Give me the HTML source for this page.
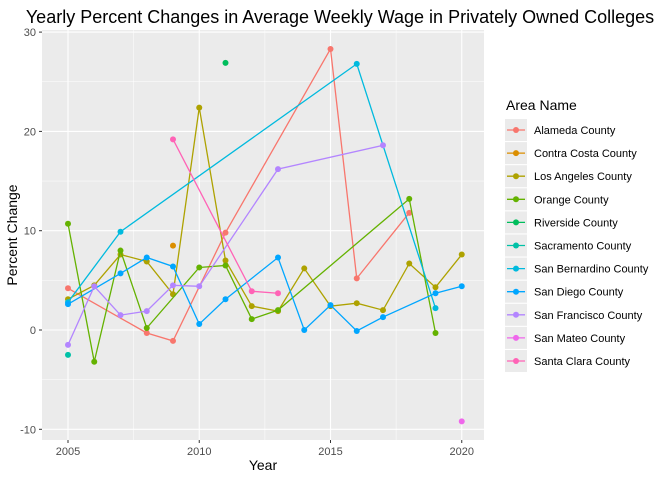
<!DOCTYPE html>
<html><head><meta charset="utf-8"><style>
body{margin:0;background:#fff;font-family:"Liberation Sans",sans-serif}
</style></head><body>
<svg id="chart" width="672" height="480" xmlns="http://www.w3.org/2000/svg" font-family="Liberation Sans, sans-serif">
<text x="340" y="23" font-size="18" text-anchor="middle" fill="#000">Yearly Percent Changes in Average Weekly Wage in Privately Owned Colleges</text>
<rect x="42" y="30" width="442" height="410" fill="#ebebeb"/>
<g id="grid"></g><g id="series"></g><g id="axes"></g><g id="legend"></g>
<text x="263" y="470" font-size="14" text-anchor="middle">Year</text>
<text transform="translate(17,235) rotate(-90)" font-size="14" text-anchor="middle">Percent Change</text>
</svg>
<script>
const names=["Alameda County","Contra Costa County","Los Angeles County","Orange County","Riverside County","Sacramento County","San Bernardino County","San Diego County","San Francisco County","San Mateo County","Santa Clara County"];
const colors=["#F8766D","#DB8E00","#AEA200","#64B200","#00BD5C","#00C1A7","#00BADE","#00A6FF","#B385FF","#EF67EB","#FF63B6"];
const years=[
[2005,2008,2009,2011,2015,2016,2018],
[2009],
[2005,2006,2007,2008,2009,2010,2011,2012,2013,2014,2015,2016,2017,2018,2019,2020],
[2005,2006,2007,2008,2010,2011,2012,2013,2018,2019],
[2011],
[2005],
[2005,2007,2016,2019],
[2005,2007,2008,2009,2010,2011,2013,2014,2015,2016,2017,2019,2020],
[2005,2006,2007,2008,2009,2010,2013,2017],
[2020],
[2009,2012,2013]];
const values=[
[4.2,-0.3,-1.1,9.8,28.3,5.2,11.8],
[8.5],
[3.1,4.5,7.6,6.9,3.6,22.4,7.0,2.4,1.9,6.2,2.4,2.7,2.0,6.7,4.3,7.6],
[10.7,-3.2,8.0,0.2,6.3,6.5,1.1,2.0,13.2,-0.3],
[26.9],
[-2.5],
[2.8,9.9,26.8,2.2],
[2.6,5.7,7.3,6.4,0.6,3.1,7.3,0.0,2.5,-0.1,1.3,3.7,4.4],
[-1.5,4.4,1.5,1.9,4.5,4.4,16.2,18.6],
[-9.2],
[19.2,3.9,3.7]];
const xTicks=[2005,2010,2015,2020];
const yTicks=[-10,0,10,20,30];
const NS="http://www.w3.org/2000/svg";
const X=v=>68+(v-2005)*26.25;
const Y=v=>330-v*9.93;
function mk(t,a,p){const e=document.createElementNS(NS,t);for(const k in a)e.setAttribute(k,a[k]);p.appendChild(e);return e;}
const grid=document.getElementById('grid'),axes=document.getElementById('axes');
for(let i=0;i<yTicks.length-1;i++){const m=(yTicks[i]+yTicks[i+1])/2;
const g=mk('line',{x1:42,x2:484,y1:Y(m),y2:Y(m),stroke:'#fff','stroke-width':0.5},grid);
}
for(let i=0;i<xTicks.length-1;i++){const m=(xTicks[i]+xTicks[i+1])/2;
const g=mk('line',{x1:X(m),x2:X(m),y1:30,y2:440,stroke:'#fff','stroke-width':0.5},grid);
}
yTicks.forEach(v=>{const g=mk('line',{x1:42,x2:484,y1:Y(v),y2:Y(v),stroke:'#fff','stroke-width':1.1},grid);

const t=mk('line',{x1:39,x2:42,y1:Y(v),y2:Y(v),stroke:'#333'},axes);

const l=mk('text',{x:36,y:Y(v)+4,'font-size':11,'text-anchor':'end',fill:'#4d4d4d'},axes);l.textContent=v;
});
xTicks.forEach(v=>{const g=mk('line',{x1:X(v),x2:X(v),y1:30,y2:440,stroke:'#fff','stroke-width':1.1},grid);

const t=mk('line',{x1:X(v),x2:X(v),y1:440,y2:443,stroke:'#333'},axes);

const l=mk('text',{x:X(v),y:455,'font-size':11,'text-anchor':'middle',fill:'#4d4d4d'},axes);l.textContent=v;
});
const S=document.getElementById('series');
names.forEach((n,i)=>{const slug=n.toLowerCase().replace(/ /g,'-');
const g=mk('g',{},S);
if(years[i].length>1){const p=mk('polyline',{points:years[i].map((y,j)=>X(y)+','+Y(values[i][j])).join(' '),fill:'none',stroke:colors[i],'stroke-width':1.3},g);
}
years[i].forEach((y,j)=>{const c=mk('circle',{cx:X(y),cy:Y(values[i][j]),r:3,fill:colors[i]},g);
});});
const L=document.getElementById('legend');
const lt=mk('text',{x:506,y:110,'font-size':14},L);lt.textContent='Area Name';

names.forEach((n,i)=>{const y=130+i*23.1;const g=mk('g',{},L);

mk('rect',{x:505,y:y-11,width:22,height:22,fill:'#ebebeb'},g);
mk('line',{x1:507,x2:525,y1:y,y2:y,stroke:colors[i],'stroke-width':1.3},g);
mk('circle',{cx:516,cy:y,r:3,fill:colors[i]},g);
const t=mk('text',{x:534,y:y+4,'font-size':11,fill:'#000'},g);t.textContent=n;});
</script>
</body></html>
